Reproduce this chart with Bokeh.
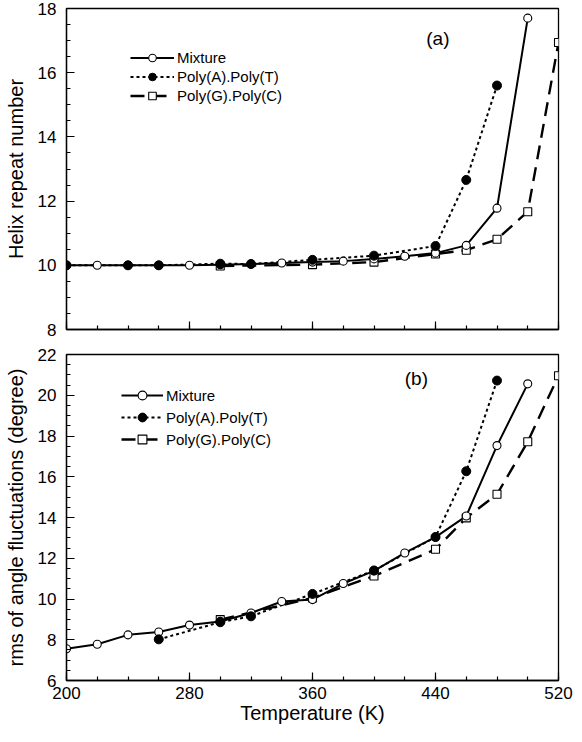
from bokeh.plotting import figure
from bokeh.layouts import column
from bokeh.models import (Legend, LegendItem, FixedTicker, Label, Range1d,
                          CustomLabelingPolicy)
from bokeh.embed import file_html
from bokeh.resources import INLINE

# ---------------- data ----------------
# Panel (a): helix repeat number
T_MIX_A = [200, 220, 240, 260, 280, 300, 320, 340, 360, 380, 400, 420, 440, 460, 480, 500]
HRN_MIX = [10.0, 10.0, 10.0, 10.0, 10.0, 10.02, 10.04, 10.07, 10.1, 10.13, 10.2, 10.28, 10.38, 10.62, 11.78, 17.7]
T_AT_A = [200, 240, 260, 300, 320, 360, 400, 440, 460, 480]
HRN_AT = [10.0, 10.0, 10.0, 10.05, 10.04, 10.17, 10.3, 10.6, 12.66, 15.6]
T_GC_A = [300, 360, 400, 440, 460, 480, 500, 520]
HRN_GC = [9.98, 10.02, 10.1, 10.35, 10.47, 10.81, 11.67, 16.94]

# Panel (b): rms of angle fluctuations (degree)
T_MIX_B = [200, 220, 240, 260, 280, 300, 320, 340, 360, 380, 400, 420, 440, 460, 480, 500]
RMS_MIX = [7.56, 7.78, 8.24, 8.38, 8.72, 8.9, 9.31, 9.88, 9.97, 10.76, 11.38, 12.26, 13.04, 14.07, 17.53, 20.56]
T_AT_B = [260, 300, 320, 360, 400, 440, 460, 480]
RMS_AT = [8.02, 8.86, 9.15, 10.25, 11.4, 13.04, 16.27, 20.72]
T_GC_B = [300, 360, 400, 440, 460, 480, 500, 520]
RMS_GC = [8.99, 10.05, 11.13, 12.44, 13.98, 15.14, 17.72, 20.96]

X_MAJOR = [200, 280, 360, 440, 520]
X_MINOR = list(range(200, 521, 20))
LABELS = ["Mixture", "Poly(A).Poly(T)", "Poly(G).Poly(C)"]

FONT = "Liberation Sans"


def style(p, ymin, ymax, show_x_labels):
    p.xgrid.visible = False
    p.ygrid.visible = False
    p.outline_line_color = "black"
    p.outline_line_width = 1.3
    p.background_fill_color = "white"
    p.border_fill_color = "white"
    p.xaxis.ticker = FixedTicker(ticks=X_MAJOR, minor_ticks=X_MINOR)
    p.yaxis.ticker = FixedTicker(ticks=list(range(ymin, ymax + 1, 2)),
                                 minor_ticks=[ymin + 0.5 * i for i in range(int((ymax - ymin) * 2) + 1)])
    for ax in (p.xaxis[0], p.yaxis[0]):
        ax.axis_line_color = "black"
        ax.axis_line_width = 1.3
        ax.major_tick_in = 8
        ax.major_tick_out = 0
        ax.minor_tick_in = 4
        ax.minor_tick_out = 0
        ax.major_tick_line_width = 1.2
        ax.minor_tick_line_width = 1.2
        ax.major_label_text_font = FONT
        ax.major_label_text_font_size = "17px"
        ax.major_label_text_color = "black"
        ax.axis_label_text_font = FONT
        ax.axis_label_text_font_style = "normal"
        ax.axis_label_text_color = "black"
    p.yaxis.major_label_standoff = 10
    p.yaxis.axis_label_standoff = 8
    p.yaxis.axis_label_text_font_size = "20px"
    if show_x_labels:
        p.xaxis.major_label_standoff = 6
        p.xaxis.axis_label = "Temperature (K)"
        p.xaxis.axis_label_text_font_size = "20px"
        p.xaxis.axis_label_standoff = 0
    else:
        # ticks only, no tick labels on the upper panel
        p.xaxis.major_label_policy = CustomLabelingPolicy(
            code="for (const i of indices) { indices.unset(i) }\nreturn indices")
        p.xaxis.major_label_standoff = 0


def draw_series(p, xm, ym, xa, ya, xg, yg):
    lm = p.line(xm, ym, line_color="black", line_width=2)
    la = p.line(xa, ya, line_color="black", line_width=2, line_dash="3 3")
    lg = p.line(xg, yg, line_color="black", line_width=2.4, line_dash="14 8")
    mg = p.scatter(xg, yg, marker="square", size=8, fill_color="white",
                   line_color="black", line_width=1.1)
    mm = p.scatter(xm, ym, marker="circle", size=8, fill_color="white",
                   line_color="black", line_width=1.1)
    ma = p.scatter(xa, ya, marker="circle", size=9, fill_color="black",
                   line_color="black", line_width=1)
    return [(lm, mm), (la, ma), (lg, mg)]


def add_legend(p, pairs, loc, row_h, glyph_w):
    items = [LegendItem(label=lab, renderers=list(pr)) for lab, pr in zip(LABELS, pairs)]
    leg = Legend(items=items, location=loc, glyph_width=glyph_w, glyph_height=row_h,
                 label_height=row_h, spacing=0, padding=0, margin=0,
                 label_standoff=3, border_line_color=None, background_fill_alpha=0,
                 label_text_font=FONT, label_text_font_size="15px",
                 label_text_color="black")
    p.add_layout(leg)


# ---------------- panel (a) ----------------
p1 = figure(width=574, height=344, x_range=Range1d(200, 520), y_range=Range1d(8, 18),
            output_backend="svg", toolbar_location=None,
            min_border_left=66, min_border_right=16, min_border_top=8, min_border_bottom=10)
style(p1, 8, 18, False)
p1.yaxis.axis_label = "Helix repeat number"
pairs1 = draw_series(p1, T_MIX_A, HRN_MIX, T_AT_A, HRN_AT, T_GC_A, HRN_GC)
add_legend(p1, pairs1, (64, 224), 19, 44)
p1.add_layout(Label(x=434, y=17.06, text="(a)", text_font=FONT, text_font_size="19px",
                    text_baseline="middle", text_align="left", text_color="black"))

# ---------------- panel (b) ----------------
p2 = figure(width=574, height=382, x_range=Range1d(200, 520), y_range=Range1d(6, 22),
            output_backend="svg", toolbar_location=None,
            min_border_left=66, min_border_right=16, min_border_top=10, min_border_bottom=46)
style(p2, 6, 22, True)
p2.yaxis.axis_label = "rms of angle fluctuations (degree)"
pairs2 = draw_series(p2, T_MIX_B, RMS_MIX, T_AT_B, RMS_AT, T_GC_B, RMS_GC)
add_legend(p2, pairs2, (55, 230), 22, 42)
p2.add_layout(Label(x=420, y=20.8, text="(b)", text_font=FONT, text_font_size="19px",
                    text_baseline="middle", text_align="left", text_color="black"))

layout = column(p1, p2, spacing=0)
open("out.html", "w").write(file_html(layout, INLINE))
